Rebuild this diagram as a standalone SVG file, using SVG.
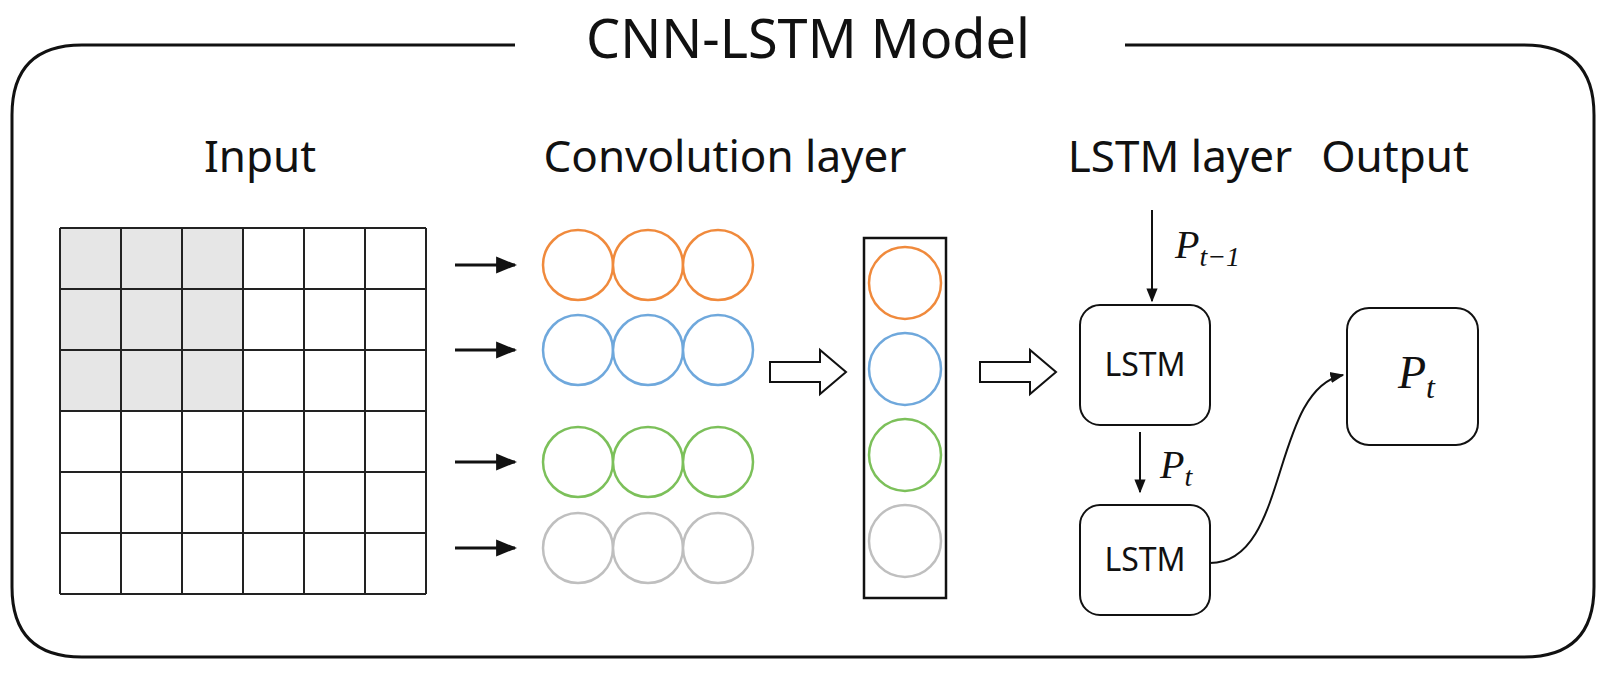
<svg xmlns="http://www.w3.org/2000/svg" width="1606" height="687" viewBox="0 0 1606 687">
<defs>
<style>
.t{font-family:"Noto Sans","Liberation Sans",sans-serif;fill:#111}
.m{font-family:"Liberation Serif",serif;font-style:italic;fill:#111}
.g{fill:none;stroke:#222;stroke-width:2}
.c{fill:#fff;stroke-width:2.5}
.box{fill:#fff;stroke:#111;stroke-width:2}
</style>
<marker id="ah" viewBox="0 0 10 10" refX="9" refY="5" markerWidth="7" markerHeight="7" orient="auto"><path d="M0,1 L10,5 L0,9 Z" fill="#111"/></marker>
</defs>
<rect width="1606" height="687" fill="#fff"/>
<g id="frame">
<path d="M515,45 H82 Q12,45 12,115 V587 Q12,657 82,657 H1524 Q1594,657 1594,587 V115 Q1594,45 1524,45 H1125" fill="none" stroke="#111" stroke-width="3"/>
<text class="t" x="808" y="58" font-size="54" text-anchor="middle">CNN-LSTM Model</text>
</g>
<g id="headers" class="t" font-size="44" text-anchor="middle">
<text x="260" y="172">Input</text>
<text x="725" y="172">Convolution layer</text>
<text x="1180" y="172">LSTM layer</text>
<text x="1395" y="172">Output</text>
</g>
<g id="input">
<rect x="60" y="228" width="183" height="183" fill="#e6e6e6"/>
<path class="g" d="M60,228H426M60,289H426M60,350H426M60,411H426M60,472H426M60,533H426M60,594H426M60,228V594M121,228V594M182,228V594M243,228V594M304,228V594M365,228V594M426,228V594"/>
</g>
<g id="conv">
<g stroke="#F08A3C" class="c"><circle cx="578" cy="265" r="35"/><circle cx="648" cy="265" r="35"/><circle cx="718" cy="265" r="35"/></g>
<g stroke="#6FA8DC" class="c"><circle cx="578" cy="350" r="35"/><circle cx="648" cy="350" r="35"/><circle cx="718" cy="350" r="35"/></g>
<g stroke="#7CC05A" class="c"><circle cx="578" cy="462" r="35"/><circle cx="648" cy="462" r="35"/><circle cx="718" cy="462" r="35"/></g>
<g stroke="#BFBFBF" class="c"><circle cx="578" cy="548" r="35"/><circle cx="648" cy="548" r="35"/><circle cx="718" cy="548" r="35"/></g>
</g>
<g id="vector">
<rect x="864" y="238" width="82" height="360" fill="#fff" stroke="#111" stroke-width="2.5"/>
<circle cx="905" cy="283" r="36" class="c" stroke="#F08A3C"/>
<circle cx="905" cy="369" r="36" class="c" stroke="#6FA8DC"/>
<circle cx="905" cy="455" r="36" class="c" stroke="#7CC05A"/>
<circle cx="905" cy="541" r="36" class="c" stroke="#BFBFBF"/>
</g>
<g id="lstm1"><rect class="box" x="1080" y="305" width="130" height="120" rx="20"/><text class="t" x="1145" y="376" font-size="32" text-anchor="middle">LSTM</text></g>
<g id="lstm2"><rect class="box" x="1080" y="505" width="130" height="110" rx="20"/><text class="t" x="1145" y="571" font-size="32" text-anchor="middle">LSTM</text></g>
<g id="output"><rect class="box" x="1347" y="308" width="131" height="137" rx="22"/><text class="m" x="1398" y="388" font-size="46">P<tspan font-size="32" dy="10">t</tspan></text></g>
<g id="connectors" stroke="#111" stroke-width="3" fill="none">
<line x1="455" y1="265" x2="515" y2="265" marker-end="url(#ah)"/>
<line x1="455" y1="350" x2="515" y2="350" marker-end="url(#ah)"/>
<line x1="455" y1="462" x2="515" y2="462" marker-end="url(#ah)"/>
<line x1="455" y1="548" x2="515" y2="548" marker-end="url(#ah)"/>
<path d="M770,362 H820 V350 L846,372 L820,394 V382 H770 Z" stroke-width="2"/>
<path d="M980,362 H1030 V350 L1056,372 L1030,394 V382 H980 Z" stroke-width="2"/>
<line x1="1152" y1="210" x2="1152" y2="301" stroke-width="2" marker-end="url(#ah)"/>
<line x1="1140" y1="432" x2="1140" y2="492" stroke-width="2" marker-end="url(#ah)"/>
<path d="M1210,563 C1290,563 1270,390 1343,375" stroke-width="2" marker-end="url(#ah)"/>
</g>
<g id="labels">
<text class="m" x="1175" y="258" font-size="40">P<tspan font-size="28" dy="8">t−1</tspan></text>
<text class="m" x="1160" y="478" font-size="40">P<tspan font-size="28" dy="8">t</tspan></text>
</g>
</svg>
